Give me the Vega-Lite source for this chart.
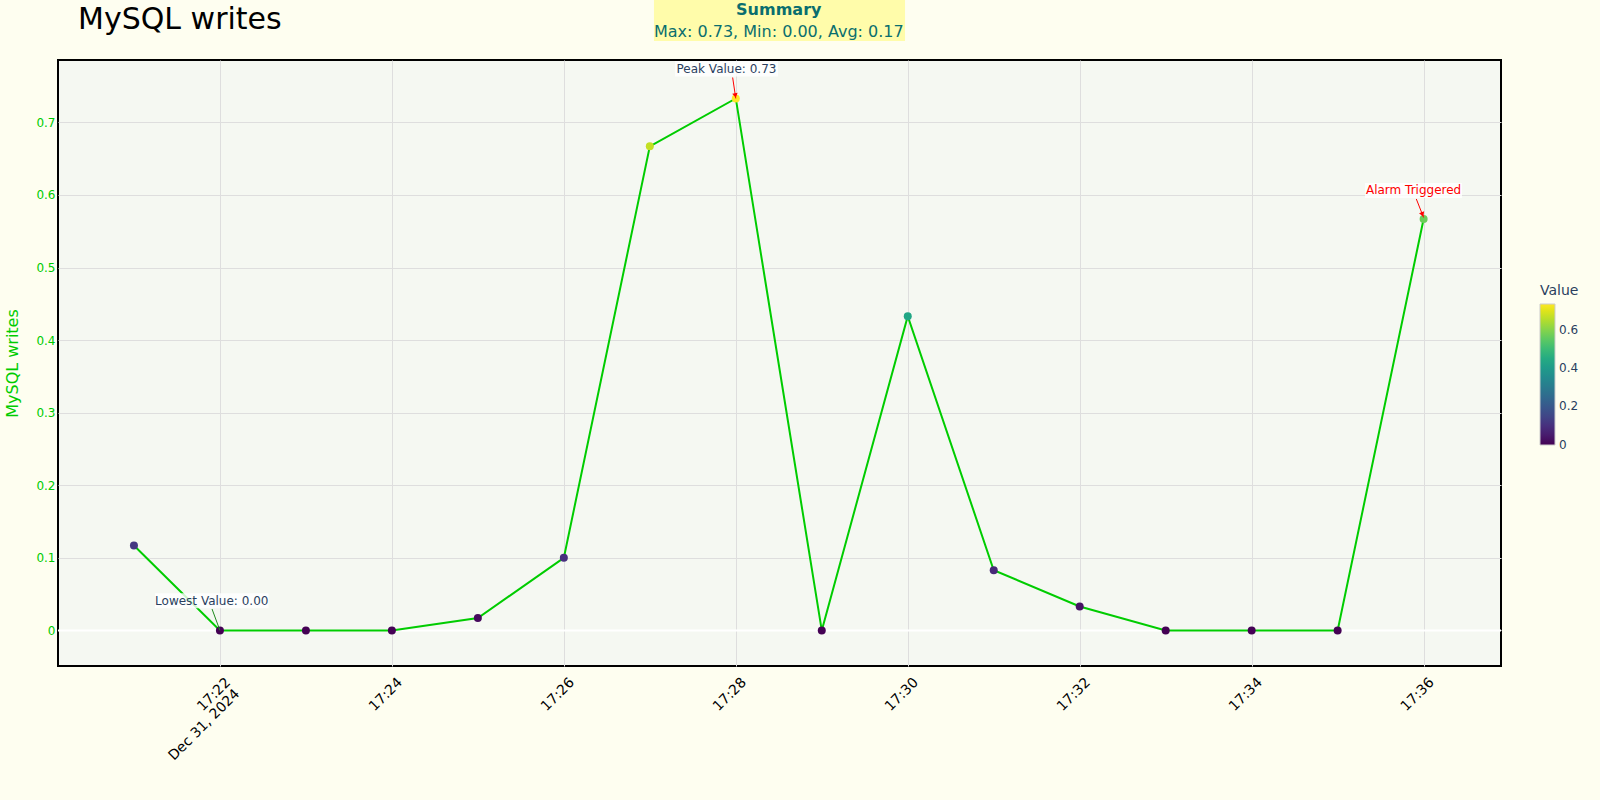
{
  "$schema": "https://vega.github.io/schema/vega-lite/v6.json",
  "width": 1443,
  "height": 606,
  "autosize": {"type": "none"},
  "padding": {"left": 58, "top": 60, "right": 99, "bottom": 134},
  "background": "#fefef0",
  "datasets": {
    "main": [
      {"time": "2024-12-31T17:21:00", "value": 0.117},
      {"time": "2024-12-31T17:22:00", "value": 0},
      {"time": "2024-12-31T17:23:00", "value": 0},
      {"time": "2024-12-31T17:24:00", "value": 0},
      {"time": "2024-12-31T17:25:00", "value": 0.017},
      {"time": "2024-12-31T17:26:00", "value": 0.1},
      {"time": "2024-12-31T17:27:00", "value": 0.667},
      {"time": "2024-12-31T17:28:00", "value": 0.733},
      {"time": "2024-12-31T17:29:00", "value": 0},
      {"time": "2024-12-31T17:30:00", "value": 0.433},
      {"time": "2024-12-31T17:31:00", "value": 0.083},
      {"time": "2024-12-31T17:32:00", "value": 0.033},
      {"time": "2024-12-31T17:33:00", "value": 0},
      {"time": "2024-12-31T17:34:00", "value": 0},
      {"time": "2024-12-31T17:35:00", "value": 0},
      {"time": "2024-12-31T17:36:00", "value": 0.567}
    ],
    "zero": [{"value": 0}],
    "title": [{"time": "2024-12-31T17:20:21", "value": 0.8283, "text": "MySQL writes"}],
    "datelabel": [{"time": "2024-12-31T17:22:08.800", "value": -0.0777, "text": "Dec 31, 2024"}],
    "labels": [
      {"label": "Peak Value: 0.73", "time": "2024-12-31T17:27:53.500", "value": 0.7739, "t1": "2024-12-31T17:27:17.600", "t2": "2024-12-31T17:28:29.500", "v1": 0.7633, "v2": 0.7846, "kind": "dark"},
      {"label": "Lowest Value: 0.00", "time": "2024-12-31T17:21:54.300", "value": 0.0408, "t1": "2024-12-31T17:21:14.700", "t2": "2024-12-31T17:22:33.900", "v1": 0.0305, "v2": 0.0511, "kind": "dark"},
      {"label": "Alarm Triggered", "time": "2024-12-31T17:35:53.000", "value": 0.6062, "t1": "2024-12-31T17:35:19.100", "t2": "2024-12-31T17:36:26.800", "v1": 0.5958, "v2": 0.6165, "kind": "alarm"}
    ],
    "arrows": [
      {"label": "Peak Value: 0.73", "time": "2024-12-31T17:27:57.800", "value": 0.7619, "time2": "2024-12-31T17:28:00.000", "value2": 0.733, "headTime": "2024-12-31T17:27:59.700", "headValue": 0.7371},
      {"label": "Alarm Triggered", "time": "2024-12-31T17:35:54.900", "value": 0.5945, "time2": "2024-12-31T17:36:00.000", "value2": 0.569, "headTime": "2024-12-31T17:35:59.200", "headValue": 0.5731},
      {"label": "Lowest Value: 0.00", "time": "2024-12-31T17:21:54.500", "value": 0.0295, "time2": "2024-12-31T17:22:00.000", "value2": 0, "headTime": "2024-12-31T17:21:59.500", "headValue": 0.004}
    ],
    "summary": [
      {"time": "2024-12-31T17:28:30", "t1": "2024-12-31T17:27:02.900", "t2": "2024-12-31T17:29:58.100", "v1": 0.8122, "v2": 0.8687, "heading": "Summary", "headingValue": 0.855, "line": "Max: 0.73, Min: 0.00, Avg: 0.17", "lineValue": 0.8245}
    ]
  },
  "layer": [
    {
      "data": {"name": "zero"},
      "mark": {"type": "rule", "color": "#ffffff", "strokeWidth": 2},
      "encoding": {
        "y": {"field": "value", "type": "quantitative"}
      }
    },
    {
      "data": {"name": "main"},
      "mark": {"type": "line", "color": "#00cc00", "strokeWidth": 2},
      "encoding": {
        "x": {
          "field": "time", "type": "temporal",
          "scale": {"domain": [
            {"year": 2024, "month": 12, "date": 31, "hours": 17, "minutes": 20, "seconds": 7},
            {"year": 2024, "month": 12, "date": 31, "hours": 17, "minutes": 36, "seconds": 54}
          ]},
          "axis": {
            "title": null,
            "values": [
              {"year": 2024, "month": 12, "date": 31, "hours": 17, "minutes": 22},
              {"year": 2024, "month": 12, "date": 31, "hours": 17, "minutes": 24},
              {"year": 2024, "month": 12, "date": 31, "hours": 17, "minutes": 26},
              {"year": 2024, "month": 12, "date": 31, "hours": 17, "minutes": 28},
              {"year": 2024, "month": 12, "date": 31, "hours": 17, "minutes": 30},
              {"year": 2024, "month": 12, "date": 31, "hours": 17, "minutes": 32},
              {"year": 2024, "month": 12, "date": 31, "hours": 17, "minutes": 34},
              {"year": 2024, "month": 12, "date": 31, "hours": 17, "minutes": 36}
            ],
            "format": "%H:%M",
            "labelAngle": -45, "labelAlign": "right", "labelBaseline": "top",
            "labelFontSize": 14, "labelColor": "#000000", "labelPadding": 9, "labelOffset": 3,
            "labelOverlap": false,
            "ticks": false, "domain": false, "grid": true, "gridColor": "#dedede", "gridWidth": 1
          }
        },
        "y": {
          "field": "value", "type": "quantitative",
          "scale": {"domain": [-0.049, 0.786], "zero": false, "nice": false},
          "axis": {
            "title": "MySQL writes",
            "values": [0, 0.1, 0.2, 0.3, 0.4, 0.5, 0.6, 0.7],
            "format": ".1~f",
            "labelColor": "#00cc00", "labelFontSize": 12, "labelPadding": 3,
            "ticks": false, "domain": false, "grid": true,
            "gridColor": "#dedede", "gridWidth": 1,
            "titleColor": "#00cc00", "titleFontSize": 16, "titleFontWeight": "normal", "titlePadding": 15
          }
        }
      }
    },
    {
      "data": {"name": "main"},
      "mark": {"type": "point", "filled": true, "size": 64, "opacity": 1},
      "encoding": {
        "x": {"field": "time", "type": "temporal"},
        "y": {"field": "value", "type": "quantitative"},
        "color": {
          "field": "value", "type": "quantitative",
          "scale": {"scheme": "viridis", "domain": [-0.0005, 0.733]},
          "legend": {
            "type": "gradient", "orient": "none", "legendX": 1482, "legendY": 224,
            "direction": "vertical", "gradientLength": 141, "gradientThickness": 15,
            "title": "Value", "titleFontSize": 14, "titleFontWeight": "normal", "titleColor": "#2a3f5f", "titlePadding": 6,
            "labelColor": "#2a3f5f", "labelFontSize": 12, "labelOffset": 4, "labelBaseline": "middle",
            "values": [0, 0.2, 0.4, 0.6], "format": ".1~f",
            "gradientStrokeColor": "#cccccc", "gradientStrokeWidth": 1
          }
        }
      }
    },
    {
      "data": {"name": "datelabel"},
      "mark": {"type": "text", "fontSize": 14, "align": "right", "baseline": "top", "angle": -45, "color": "#000000"},
      "encoding": {
        "x": {"field": "time", "type": "temporal"},
        "y": {"field": "value", "type": "quantitative"},
        "text": {"field": "text"}
      }
    },
    {
      "data": {"name": "title"},
      "mark": {"type": "text", "fontSize": 30, "align": "left", "baseline": "alphabetic", "color": "#000000"},
      "encoding": {
        "x": {"field": "time", "type": "temporal"},
        "y": {"field": "value", "type": "quantitative"},
        "text": {"field": "text"}
      }
    },
    {
      "data": {"name": "labels"},
      "mark": {"type": "rect", "fill": "#ffffff", "opacity": 0.8},
      "encoding": {
        "x": {"field": "t1", "type": "temporal"},
        "x2": {"field": "t2"},
        "y": {"field": "v1", "type": "quantitative"},
        "y2": {"field": "v2"}
      }
    },
    {
      "data": {"name": "arrows"},
      "mark": {"type": "rule", "strokeWidth": 1},
      "encoding": {
        "x": {"field": "time", "type": "temporal"},
        "x2": {"field": "time2"},
        "y": {"field": "value", "type": "quantitative"},
        "y2": {"field": "value2"},
        "color": {"condition": {"test": "datum.label === 'Lowest Value: 0.00'", "value": "#1e8a1e"}, "value": "#ff0000"}
      }
    },
    {
      "data": {"name": "arrows"},
      "transform": [{"filter": "datum.label !== 'Lowest Value: 0.00'"}],
      "mark": {"type": "point", "shape": "triangle-up", "filled": true, "size": 30, "opacity": 1, "color": "#ff0000"},
      "encoding": {
        "x": {"field": "headTime", "type": "temporal"},
        "y": {"field": "headValue", "type": "quantitative"},
        "angle": {"condition": {"test": "datum.label === 'Alarm Triggered'", "value": 158}, "value": 169}
      }
    },
    {
      "data": {"name": "labels"},
      "mark": {"type": "text", "fontSize": 12, "align": "center", "baseline": "middle"},
      "encoding": {
        "x": {"field": "time", "type": "temporal"},
        "y": {"field": "value", "type": "quantitative"},
        "text": {"field": "label"},
        "color": {"condition": {"test": "datum.kind === 'alarm'", "value": "#ff0000"}, "value": "#2a3f5f"}
      }
    },
    {
      "data": {"name": "summary"},
      "mark": {"type": "rect", "fill": "#fffcaa", "opacity": 1},
      "encoding": {
        "x": {"field": "t1", "type": "temporal"},
        "x2": {"field": "t2"},
        "y": {"field": "v1", "type": "quantitative"},
        "y2": {"field": "v2"}
      }
    },
    {
      "data": {"name": "summary"},
      "mark": {"type": "text", "fontSize": 16, "fontWeight": "bold", "align": "center", "baseline": "middle", "color": "#0a6e6e"},
      "encoding": {
        "x": {"field": "time", "type": "temporal"},
        "y": {"field": "headingValue", "type": "quantitative"},
        "text": {"field": "heading"}
      }
    },
    {
      "data": {"name": "summary"},
      "mark": {"type": "text", "fontSize": 16, "align": "center", "baseline": "middle", "color": "#0a6e6e"},
      "encoding": {
        "x": {"field": "time", "type": "temporal"},
        "y": {"field": "lineValue", "type": "quantitative"},
        "text": {"field": "line"}
      }
    }
  ],
  "config": {
    "font": "DejaVu Sans",
    "view": {"fill": "#f5f8f2", "stroke": "#000000", "strokeWidth": 2}
  }
}
